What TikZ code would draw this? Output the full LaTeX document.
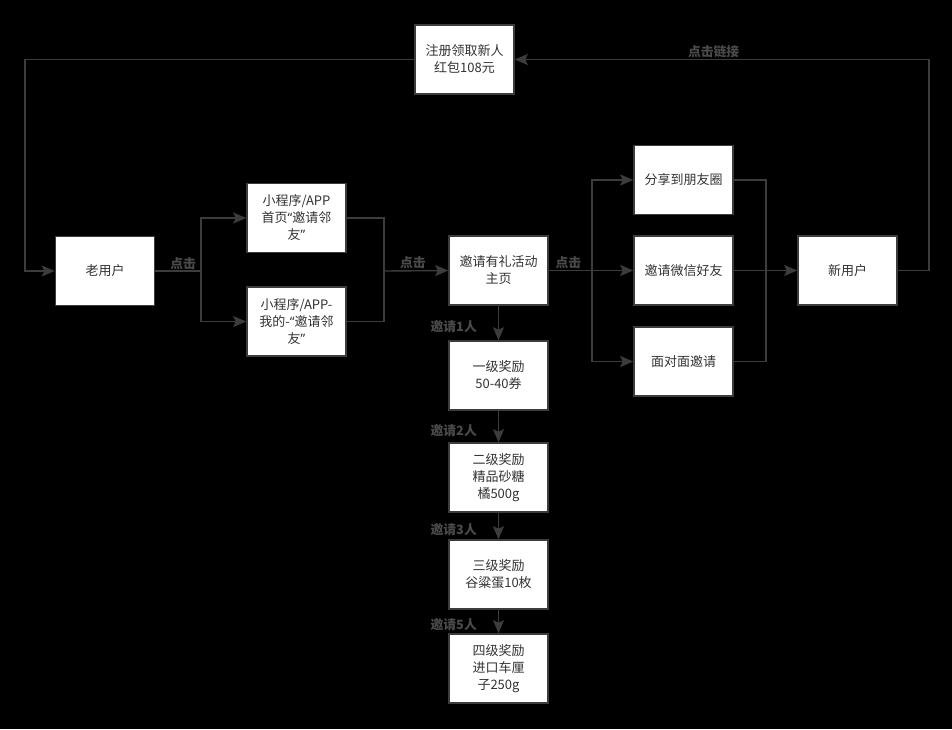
\documentclass[tikz,border=0pt]{standalone}
\usepackage{fontspec}
\setmainfont{Noto Sans CJK SC}
\newfontfamily\latinq{Noto Sans}
\usepackage{tikz}
\usetikzlibrary{arrows.meta,positioning}
\definecolor{wire}{HTML}{3C3C3C}
\definecolor{tagtext}{HTML}{4A4A4A}
\tikzset{>={Stealth[width=11pt,length=13pt,inset=2.5pt]}}
\tikzset{
  box/.style={draw=wire, line width=1.6pt, fill=white, minimum width=99pt,
    minimum height=69pt, align=center, inner sep=2pt, text=black!80,
    font=\fontsize{13}{17}\selectfont},
  link/.style={draw=wire, line width=1.4pt},
  tag/.style={text=tagtext, inner sep=1pt, font=\fontsize{12.8}{14}\selectfont\bfseries}
}
\newcommand\openq{{\latinq “}}
\newcommand\closeq{{\latinq ”}}

\begin{document}
\begin{tikzpicture}[x=1pt, y=-1pt]

  \fill[black] (0,0) rectangle (952,729);

  % boxes
  \node[box] (reg)  at (464.5, 59.5) {注册领取新人\\红包108元};
  \node[box] (old)  at (105, 271)    {老用户};
  \node[box] (mini) at (296.5, 218)  {小程序/APP\\首页\openq 邀请邻\\友\closeq};
  \node[box] (mine) at (296.5, 321.5) {小程序/APP-\\我的-\openq 邀请邻\\友\closeq};
  \node[box] (home) at (498.5, 270.5) {邀请有礼活动\\主页};
  \node[box] (lv1)  at (498.5, 375.5) {一级奖励\\50-40券};
  \node[box] (lv2)  at (498.5, 477.5) {二级奖励\\精品砂糖\\橘500g};
  \node[box] (lv3)  at (498.5, 574.5) {三级奖励\\谷粱蛋10枚};
  \node[box] (lv4)  at (498.5, 668.5) {四级奖励\\进口车厘\\子250g};
  \node[box] (moment) at (683.5, 180)  {分享到朋友圈};
  \node[box] (wechat) at (683.5, 270.5) {邀请微信好友};
  \node[box] (face)   at (683.5, 361.5) {面对面邀请};
  \node[box] (new)    at (847.5, 270.5) {新用户};

  % bends
  \coordinate (splitA) at (201, 271);
  \coordinate (joinA)  at (384, 271);
  \coordinate (splitB) at (592, 270.5);
  \coordinate (joinB)  at (766, 270.5);
  \coordinate (backR)  at (929, 270.5);
  \coordinate (backL)  at (25, 59.5);

  \draw[link] (old.east) -- (splitA)
    node[midway, tag, anchor=south, xshift=5pt] {点击}; % old->split
  \draw[link,->] (splitA) |- (mini.west);
  \draw[link,->] (splitA) |- (mine.west);

  \draw[link] (mini.east) -| (joinA);
  \draw[link] (mine.east) -| (joinA);
  \draw[link,->] (joinA) -- (home.west)
    node[pos=0.45, tag, anchor=south] {点击}; % join->home

  \draw[link] (home.east) -- (splitB)
    node[midway, tag, anchor=south, xshift=-2pt] {点击};
  \draw[link,->] (splitB) |- (moment.west);
  \draw[link,->] (splitB) -- (wechat.west);
  \draw[link,->] (splitB) |- (face.west);

  \draw[link] (moment.east) -| (joinB);
  \draw[link] (face.east) -| (joinB);
  \draw[link,->] (wechat.east) -- (new.west);

  \draw[link,->] (new.east) -- (backR) |- (reg.east)
    node[pos=0.76, tag, anchor=south] {点击链接}; % new->reg
  \draw[link,->] (reg.west) -- (backL) |- (old.west); % reg->old

  % reward ladder
  \draw[link,->] (home) -- (lv1) node[pos=0.62, tag, left=20pt] {邀请1人};
  \draw[link,->] (lv1) -- (lv2)  node[pos=0.62, tag, left=20pt] {邀请2人};
  \draw[link,->] (lv2) -- (lv3)  node[pos=0.62, tag, left=20pt] {邀请3人};
  \draw[link,->] (lv3) -- (lv4)  node[pos=0.62, tag, left=20pt] {邀请5人};

\end{tikzpicture}
\end{document}
